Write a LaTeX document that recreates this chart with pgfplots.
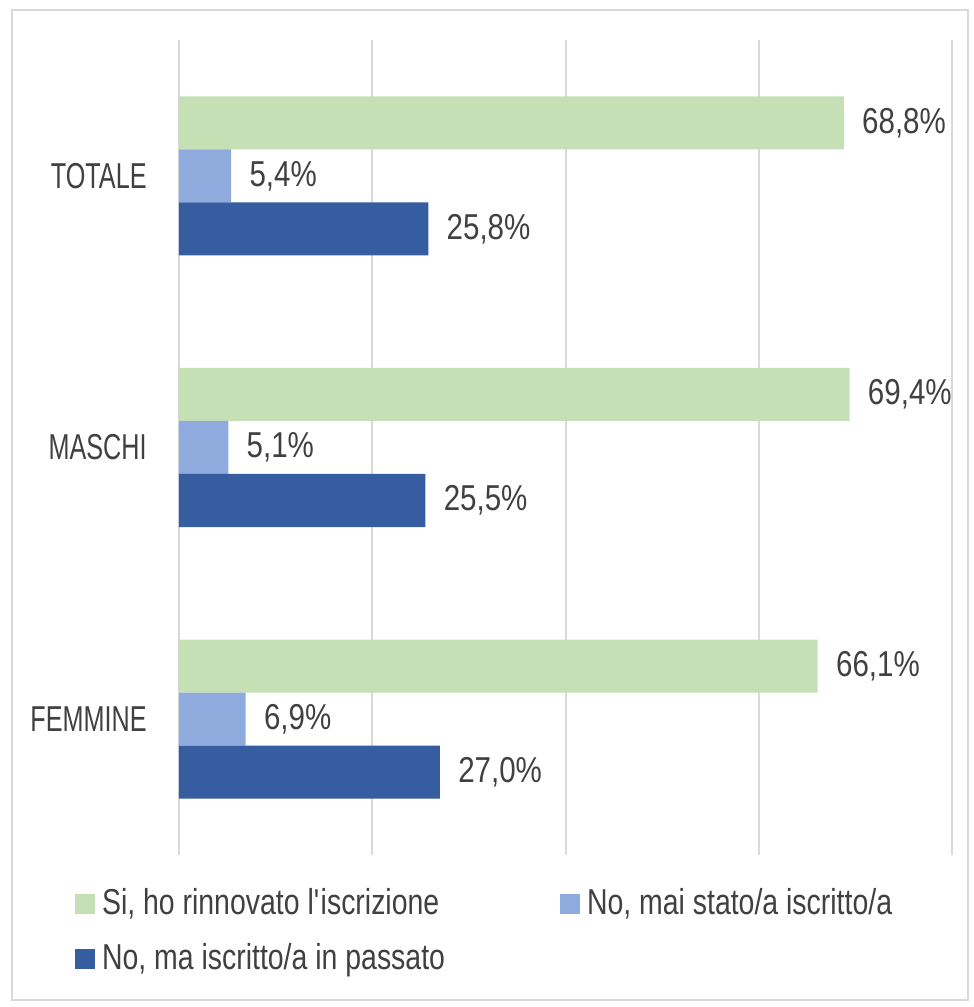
\documentclass[border=0pt]{standalone}
\usepackage{fontspec}
\setmainfont{Liberation Sans}[FakeStretch=0.70]
\newfontfamily\numfont{Liberation Sans}[FakeStretch=0.82]
\newfontfamily\legfont{Liberation Sans}[FakeStretch=0.79]
\usepackage{pgfplots}
\pgfplotsset{compat=1.18}
\definecolor{cgreen}{HTML}{C5E0B4}
\definecolor{clight}{HTML}{8FAADC}
\definecolor{cdark}{HTML}{355D9F}
\definecolor{ctext}{HTML}{404040}
\definecolor{cgrid}{HTML}{D9D9D9}
\begin{document}
\fontsize{18pt}{21pt}\selectfont
\begin{tikzpicture}
\useasboundingbox (0,0) rectangle (487pt,503.5pt);
\draw[cgrid, line width=1pt] (6pt,3.5pt) rectangle (484pt,498.5pt);
\begin{axis}[
  at={(89.5pt,76pt)}, anchor=south west,
  scale only axis, width=386.5pt, height=407.5pt,
  xbar, xmin=0, xmax=80, ymin=-0.5, ymax=2.5,
  bar width=26.5pt,
  axis line style={draw=none},
  xtick={0,20,40,60,80}, xticklabels={},
  ytick={0,1,2}, yticklabels={FEMMINE,MASCHI,TOTALE},
  major tick length=0pt,
  xmajorgrids, grid style={cgrid, line width=1pt},
  yticklabel style={text=ctext, font=\fontsize{18pt}{21pt}\selectfont, xshift=-10pt},
  point meta=x,
  nodes near coords={\pgfmathprintnumber[fixed,fixed zerofill,precision=1,use comma,assume math mode=true]{\pgfplotspointmeta}\%},
  nodes near coords style={text=ctext, font=\fontsize{18pt}{21pt}\selectfont\numfont, anchor=west, xshift=3pt},
  legend columns=2,
  legend cell align=left,
  legend style={at={(-0.135,-0.037)}, anchor=north west, draw=none, fill=none,
    font=\fontsize{18pt}{21pt}\selectfont\legfont, text=ctext, inner sep=0pt,
    nodes={inner sep=1.5pt},
    /tikz/every odd column/.append style={column sep=2pt},
    /tikz/every even column/.append style={column sep=56pt},
    row sep=8.5pt},
  legend image code/.code={\fill[#1] (0pt,-5pt) rectangle (10pt,5pt);},
]
\addplot[fill=cgreen, draw=none, bar shift=26.5pt] coordinates {(66.1,0) (69.4,1) (68.8,2)};
\addplot[fill=clight, draw=none, bar shift=0pt] coordinates {(6.9,0) (5.1,1) (5.4,2)};
\addplot[fill=cdark, draw=none, bar shift=-26.5pt] coordinates {(27.0,0) (25.5,1) (25.8,2)};
\legend{{Si, ho rinnovato l\textquotesingle iscrizione},{No, mai stato/a iscritto/a},{No, ma iscritto/a in passato}}
\end{axis}
\end{tikzpicture}
\end{document}
